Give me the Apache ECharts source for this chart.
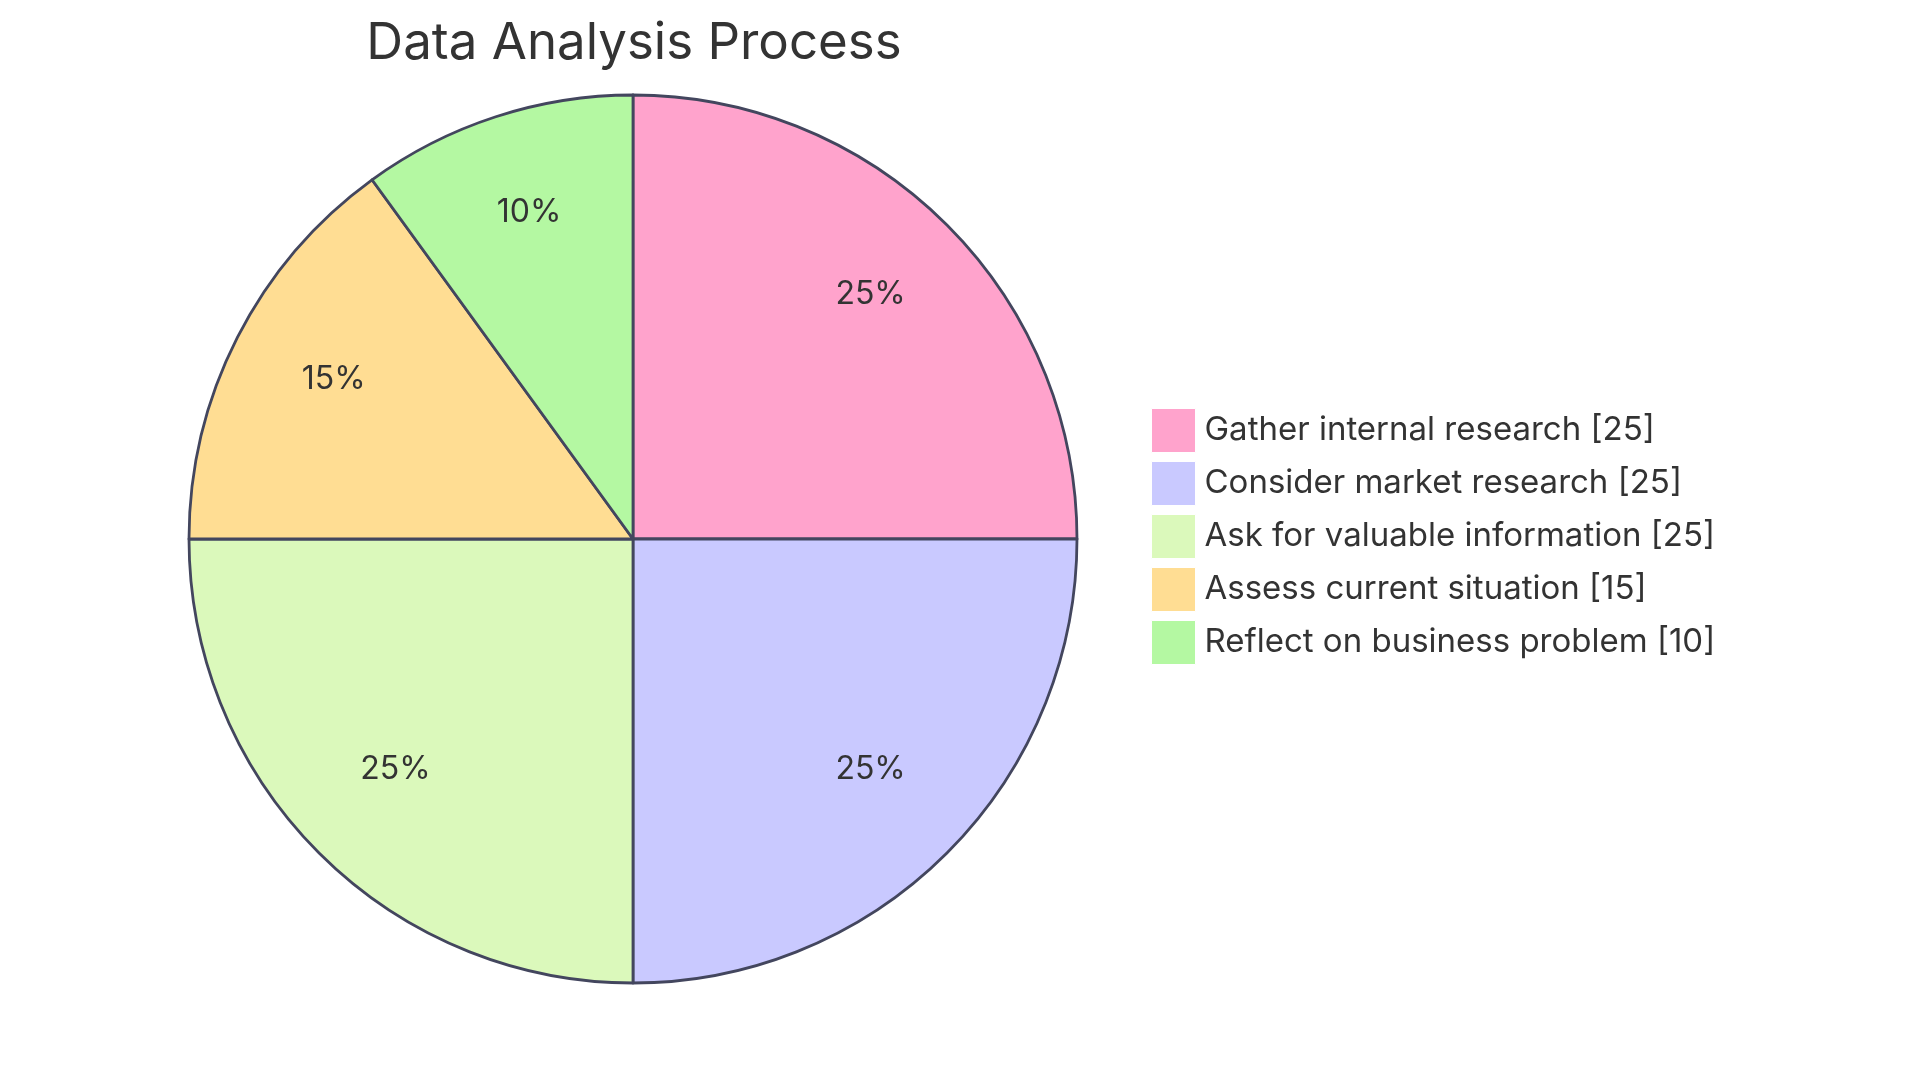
<!DOCTYPE html>
<html>
<head>
<meta charset="utf-8">
<script src="https://cdn.jsdelivr.net/npm/echarts@6/dist/echarts.min.js"></script>
<style>html,body{margin:0;padding:0;background:#fff;}#c{width:1920px;height:1080px;}</style>
</head>
<body>
<div id="c"></div>
<script>
const titleText = 'Data Analysis Process';
const categories = ['Gather internal research', 'Consider market research', 'Ask for valuable information', 'Assess current situation', 'Reflect on business problem'];
const values = [25, 25, 25, 15, 10];
const colors = ['#FFA3CC', '#C9C9FF', '#DBF9BB', '#FFDD93', '#B4F8A2'];

const FONT = 'Inter, "Noto Sans", sans-serif';
const data = categories.map((n, i) => ({ name: n, value: values[i], itemStyle: { color: colors[i] } }));
const labelData = categories.map((n, i) => ({ name: n, value: values[i] }));

const chart = echarts.init(document.getElementById('c'), null, { renderer: 'canvas' });
chart.setOption({
  animation: false,
  backgroundColor: '#ffffff',
  title: {
    text: titleText,
    left: 629, top: 13, textAlign: 'center',
    textStyle: { fontFamily: FONT, fontSize: 51, fontWeight: 'normal', color: '#333333' }
  },
  legend: {
    orient: 'vertical',
    left: 1151, top: 408,
    padding: 0,
    icon: 'rect',
    itemWidth: 44, itemHeight: 44, itemGap: 8,
    data: categories,
    formatter: name => name + ' [' + values[categories.indexOf(name)] + ']',
    itemStyle: { borderWidth: 1, borderColor: '#ffffff' },
    textStyle: { fontFamily: FONT, fontSize: 33, color: '#333333', padding: [0, 0, 0, 4] }
  },
  series: [
    {
      type: 'pie',
      center: [633, 539],
      radius: [0, 444],
      startAngle: 90,
      clockwise: true,
      silent: true,
      data: data,
      label: { show: false },
      labelLine: { show: false },
      itemStyle: { borderColor: '#43465E', borderWidth: 2.8 }
    },
    {
      type: 'pie',
      center: [633, 539],
      radius: [222, 444],
      startAngle: 90,
      clockwise: true,
      silent: true,
      legendHoverLink: false,
      data: labelData,
      itemStyle: { color: 'rgba(0,0,0,0)', borderWidth: 0 },
      label: {
        show: true, position: 'inside',
        formatter: p => Math.round(p.percent) + '%',
        fontFamily: FONT, fontSize: 32, color: '#333333'
      },
      labelLayout: function () { return { dy: -7 }; },
      labelLine: { show: false }
    }
  ]
});
</script>
</body>
</html>
